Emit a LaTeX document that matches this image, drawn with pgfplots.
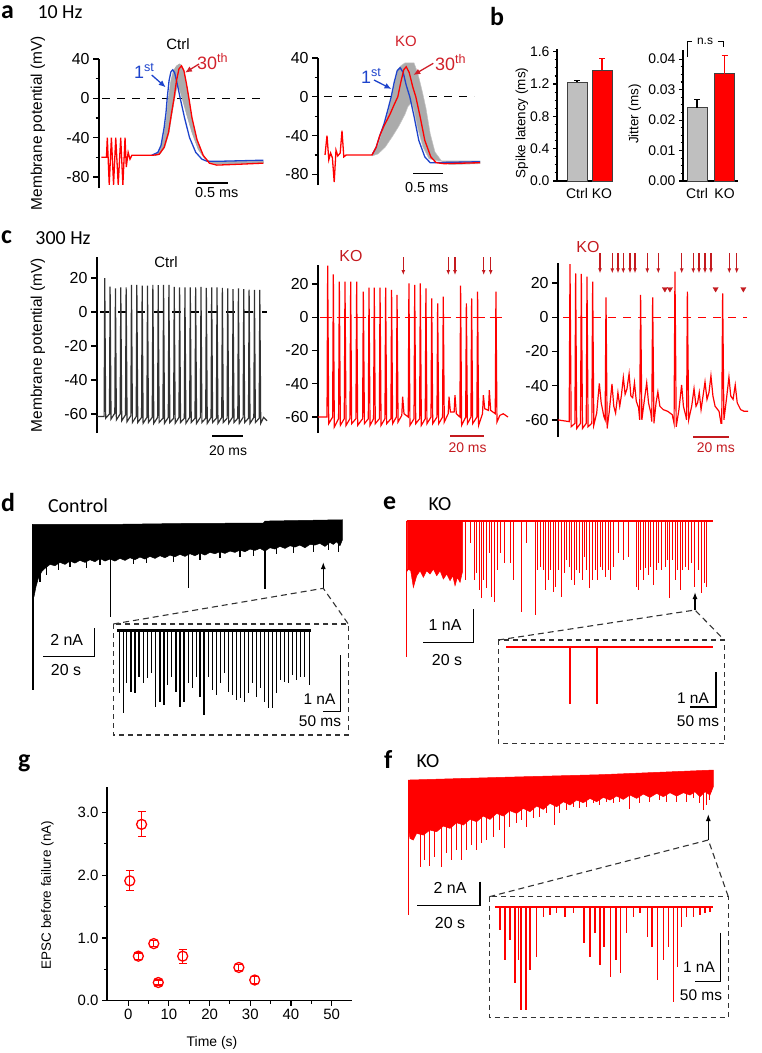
\documentclass[border=0pt]{standalone}
\usepackage{fontspec}
\setmainfont{Liberation Sans}
\newfontfamily\calib{Carlito}
\usepackage{pgfplots}
\pgfplotsset{compat=1.18}
\usetikzlibrary{arrows.meta}
\definecolor{tred}{HTML}{FF0000}
\definecolor{dred}{HTML}{C41A1F}
\definecolor{txred}{HTML}{D1202A}
\definecolor{tblue}{HTML}{1E44CC}
\definecolor{band}{HTML}{ABABAB}
\definecolor{barg}{HTML}{BFBFBF}
\definecolor{ctrlk}{HTML}{333333}
\newcommand{\fs}[1]{\fontsize{#1}{#1}\selectfont}
\pgfplotsset{
  tr/.style={hide axis, scale only axis, clip=false, anchor=south west},
  vm/.style={scale only axis, clip=false, anchor=south west,
    axis x line=none, axis y line=left, axis line style={-, line width=1.3bp},
    tick align=outside, major tick length=6bp, minor tick length=3.5bp,
    tick style={black, line width=1.3bp}, xtick=\empty,
    yticklabel style={font=\fs{16}, /pgf/number format/assume math mode=true}},
  bst/.style={scale only axis, clip=false, anchor=south west,
    axis x line=bottom, axis y line=left, axis line style={-, line width=1.2bp},
    tick align=outside, major tick length=4bp, minor tick length=2.5bp,
    tick style={black, line width=1.1bp}, xtick={1,2}, xticklabels={Ctrl,KO},
    xtick style={draw=none}, tick label style={font=\fs{14}},
    yticklabel style={/pgf/number format/.cd, fixed, fixed zerofill, assume math mode=true},
    scaled y ticks=false, minor y tick num=3},
  bars/.style={ybar, bar width=20bp, bar shift=0bp, draw=black!75, line width=0.8bp,
    error bars/y dir=plus, error bars/y explicit,
    error bars/error bar style={#1, line width=1.1bp},
    error bars/error mark options={rotate=90, #1, mark size=3bp, line width=1.1bp}},
}
\begin{document}
\begin{tikzpicture}[x=1bp,y=1bp]
\useasboundingbox (0,0) rectangle (762,-1053);

% ---------------- a
\begin{axis}[vm, at={(99bp,-188bp)}, width=164bp, height=129bp,
  xmin=0, xmax=2.645, ymin=-91.3, ymax=40, ytick={-80,-40,0,40}, minor ytick={-60,-20,20}]
\addplot[black, dash pattern=on 8bp off 7bp, line width=1.2bp] coordinates {(0.05,0)(2.65,0)};
\addplot[fill=band, draw=band, line width=0.5bp] coordinates {
 (0.9,-58)(0.98,-53)(1.04,-40)(1.09,-20)(1.12,0)(1.16,18)(1.2,28)(1.25,33)(1.3,35)(1.33,33.5)
 (1.37,28)(1.41,15)(1.45,0)(1.5,-20)(1.58,-42)(1.68,-58)(1.78,-65)(1.9,-67)(2.65,-66)
 (2.65,-64)(1.9,-64.5)(1.78,-64)(1.7,-61)(1.6,-52)(1.5,-35)(1.42,-18)(1.35,-2)(1.3,9)
 (1.26,13)(1.22,0)(1.18,-15)(1.13,-35)(1.06,-50)(0.98,-57)(0.9,-58.5)} --cycle;
\addplot[tblue, line width=1.3bp] coordinates {
 (0.85,-58)(0.95,-55)(1.0,-48)(1.05,-30)(1.08,-15)(1.10,0)(1.13,18)(1.16,27)(1.19,29)
 (1.22,26)(1.26,15)(1.31,0)(1.38,-20)(1.46,-40)(1.56,-55)(1.66,-62)(1.74,-64)(2.0,-64)(2.65,-63)};
\addplot[tred, line width=1.3bp] coordinates {
 (0.04,-60)(0.12,-60)(0.134,-40)(0.165,-88)(0.2,-40)(0.235,-88)(0.27,-40)(0.31,-88)(0.35,-40)
 (0.385,-88)(0.42,-40)(0.44,-70)(0.47,-55)(0.5,-62)(0.53,-58)(0.6,-58)(0.87,-58)(0.97,-57)
 (1.05,-50)(1.12,-35)(1.17,-15)(1.21,0)(1.25,18)(1.29,30)(1.33,33)(1.37,28)(1.41,15)(1.45,0)
 (1.5,-20)(1.58,-42)(1.68,-58)(1.78,-66)(1.9,-68)(2.3,-67)(2.65,-66)};
\end{axis}

\begin{axis}[vm, at={(318bp,-185bp)}, width=162bp, height=127bp,
  xmin=0, xmax=2.7, ymin=-91, ymax=40, ytick={-80,-40,0,40}, minor ytick={-60,-20,20}]
\addplot[black, dash pattern=on 8bp off 7bp, line width=1.2bp] coordinates {(0.1,0)(2.6,0)};
\addplot[fill=band, draw=band!70, line width=0.5bp] coordinates {
 (0.9,-60)(1.0,-50)(1.05,-39)(1.15,-20)(1.22,-2)(1.28,15)(1.33,28)(1.38,32)(1.45,35)(1.6,35)
 (1.66,25)(1.74,5)(1.8,-12)(1.87,-38)(1.95,-57)(2.08,-68)(2.2,-70)(2.7,-69)
 (2.7,-66)(2.0,-66)(1.85,-64)(1.75,-52)(1.66,-32)(1.6,-14)(1.56,-6)
 (1.5,-10)(1.45,-18)(1.35,-30)(1.25,-40)(1.12,-52)(1.0,-59)(0.9,-61)} --cycle;
\addplot[tblue, line width=1.3bp] coordinates {
 (0.9,-60)(0.97,-52)(1.03,-40)(1.1,-28)(1.17,-12)(1.22,0)(1.27,15)(1.32,27)(1.37,30)(1.42,25)
 (1.47,12)(1.53,0)(1.6,-20)(1.68,-45)(1.78,-62)(1.87,-68)(2.7,-67)};
\addplot[tred, line width=1.3bp] coordinates {
 (0.117,-60)(0.15,-40)(0.18,-65)(0.21,-58)(0.24,-63)(0.27,-88)(0.30,-55)(0.33,-61)(0.37,-58)
 (0.40,-35)(0.43,-62)(0.47,-60)(0.9,-60)(0.97,-52)(1.03,-40)(1.1,-30)(1.2,-18)(1.27,-8)(1.33,0)
 (1.38,15)(1.43,28)(1.47,31)(1.52,25)(1.58,10)(1.63,0)(1.7,-20)(1.78,-45)(1.88,-62)(1.97,-68)
 (2.1,-69)(2.7,-68)};
\end{axis}

\begin{scope}[y=-1bp]
\node[anchor=west,inner sep=0,font=\calib\bfseries\fs{26}] at (1,12) {a};
\node[font=\calib\fs{20}] at (60,12) {10 Hz};
\node[rotate=90,font=\fs{15.5}] at (38,123) {Membrane potential (mV)};
\node[font=\fs{15}] at (178,44) {Ctrl};
\node[font=\fs{15},text=txred] at (406,41) {KO};
\node[anchor=base west,font=\fs{18},text=tblue,inner sep=0] at (134,78) {1\textsuperscript{st}};
\draw[tblue,line width=1.3bp,-{Latex[length=7bp,width=6bp]}] (151.7,75)--(165.7,87.3);
\node[anchor=base west,font=\fs{18},text=txred,inner sep=0] at (197,69) {30\textsuperscript{th}};
\draw[txred,line width=1.3bp,-{Latex[length=7bp,width=6bp]}] (199,64)--(185,72.7);
\node[anchor=base west,font=\fs{18},text=tblue,inner sep=0] at (361,83) {1\textsuperscript{st}};
\draw[tblue,line width=1.3bp,-{Latex[length=7bp,width=6bp]}] (374,80)--(391.5,89);
\node[anchor=base west,font=\fs{18},text=txred,inner sep=0] at (435,70) {30\textsuperscript{th}};
\draw[txred,line width=1.3bp,-{Latex[length=7bp,width=6bp]}] (433.3,63.3)--(413.3,75);
\draw[line width=1.5bp] (197,183)--(228,183);
\node[font=\fs{14.5}] at (216.7,193) {0.5 ms};
\draw[line width=1.5bp] (413.3,173.3)--(443.3,173.3);
\node[font=\fs{14.5}] at (426.7,187.5) {0.5 ms};
\end{scope}

% ---------------- b
\begin{axis}[bst, at={(557bp,-181bp)}, width=56bp, height=131.7bp,
  xmin=0.2, xmax=2.44, ymin=0, ymax=1.63, ytick={0,0.4,0.8,1.2,1.6},
  yticklabel style={/pgf/number format/precision=1}]
\addplot[fill=barg, bars=black] coordinates {(1,1.22) +- (0,0.025)};
\addplot[fill=tred, bars=tred] coordinates {(2,1.37) +- (0,0.145)};
\end{axis}
\begin{axis}[bst, at={(683bp,-181bp)}, width=55bp, height=131bp,
  xmin=0.49, xmax=2.49, ymin=0, ymax=0.043, ytick={0,0.01,0.02,0.03,0.04},
  yticklabel style={/pgf/number format/precision=2}]
\addplot[fill=barg, bars=black] coordinates {(1,0.0241) +- (0,0.0027)};
\addplot[fill=tred, bars=tred] coordinates {(2,0.0352) +- (0,0.0059)};
\end{axis}
\begin{scope}[y=-1bp]
\node[anchor=west,inner sep=0,font=\calib\bfseries\fs{26}] at (490,17) {b};
\node[rotate=90,font=\fs{13.5}] at (522,123) {Spike latency (ms)};
\node[rotate=90,font=\fs{13.5}] at (635,114) {Jitter (ms)};
\draw[line width=1bp] (687.3,56.7)--(687.3,41.7)--(692,41.7);
\draw[line width=1bp] (717.7,41.7)--(723.3,41.7)--(723.3,47);
\node[font=\fs{12}] at (705,41) {n.s};
\end{scope}

% ---------------- c
\begin{axis}[vm, at={(97bp,-433bp)}, width=170bp, height=176bp,
  xmin=0, xmax=109.7, ymin=-71.2, ymax=32.4, ytick={-60,-40,-20,0,20}]
\addplot[black, dash pattern=on 9bp off 9bp, line width=1.3bp] coordinates {(2,0)(110,0)};
\addplot[ctrlk, line width=1.2bp] coordinates {
 (0,-61.5)(4.6,-61.5)(5.0,20)(5.6,-62.5)(8.05,-60)(8.45,15)(9.05,-63)(11.5,-59.5)(11.9,14)(12.5,-63.5)
 (14.95,-60)(15.35,14.5)(15.95,-64)(18.4,-60.5)(18.8,14.5)(19.4,-64.5)(21.85,-61)(22.25,16)(22.85,-65)
 (25.3,-61.5)(25.7,16)(26.3,-65)(28.75,-62)(29.15,15.5)(29.75,-65.5)(32.2,-62)(32.6,15.5)(33.2,-65)
 (35.65,-62)(36.05,16)(36.65,-65.5)(39.1,-62)(39.5,15.8)(40.1,-65)(42.55,-62.5)(42.95,16)(43.55,-65.5)
 (46.0,-62)(46.4,16)(47.0,-65)(49.45,-62.5)(49.85,14.8)(50.45,-65.5)(52.9,-62)(53.3,14.5)(53.9,-65)
 (56.35,-62.5)(56.75,14.5)(57.35,-65.5)(59.8,-62)(60.2,14.5)(60.8,-65)(63.25,-62.5)(63.65,14.5)(64.25,-65.5)
 (66.7,-62)(67.1,14.8)(67.7,-65)(70.15,-62.5)(70.55,14.3)(71.15,-65.5)(73.6,-62)(74.0,14.5)(74.6,-65)
 (77.05,-62.5)(77.45,14.5)(78.05,-65.5)(80.5,-62)(80.9,14.3)(81.5,-65)(83.95,-62.5)(84.35,14)(84.95,-65.5)
 (87.4,-62)(87.8,13.5)(88.4,-65)(90.85,-62.5)(91.25,14)(91.85,-65.5)(94.3,-62)(94.7,13.5)(95.3,-65)
 (97.75,-62.5)(98.15,13.2)(98.75,-65.5)(101.2,-62)(101.6,13)(102.2,-65)(104.65,-62.5)(105.05,13)(105.65,-65.5)
 (107.5,-62)(109.7,-64)};
\end{axis}

\begin{axis}[vm, at={(318bp,-433bp)}, width=190bp, height=168bp,
  xmin=0, xmax=111.8, ymin=-69.6, ymax=31.4, ytick={-60,-40,-20,0,20}]
\addplot[tred, dash pattern=on 12bp off 5bp, line width=1.3bp] coordinates {(1,0)(109,0)};
\addplot[tred, line width=1.2bp] coordinates {
 (0,-60)(5.3,-60)(5.69,31)(6.3,-64)(8.6,-60)(9.02,25.8)(9.6,-66)(12.1,-61)(12.55,21.4)(13.15,-65)
 (15.45,-61)(15.88,21.4)(16.5,-65)(18.8,-61)(19.22,21.4)(19.8,-64)(22.3,-61)(22.75,21.4)(23.35,-65)
 (26.25,-61)(26.67,15.4)(27.3,-64)(29.6,-61)(30.0,17.8)(30.6,-65)(32.7,-61)(33.1,17.8)(33.7,-64)
 (36.1,-61)(36.5,17.8)(37.1,-65)(39.4,-61)(39.8,17.8)(40.4,-64)(42.9,-61)(43.3,16.4)(43.9,-64)
 (46.1,-60)(46.5,13.4)(47.1,-63)(49.3,-59)(49.8,-47.8)(50.6,-58)(53.1,-60)(53.5,20.4)(54.1,-65)
 (56.5,-61)(56.9,19.4)(57.5,-64)(59.8,-61)(60.2,20.4)(60.8,-65)(63.1,-61)(63.5,17.4)(64.1,-64)
 (66.5,-60)(66.9,11.4)(67.5,-64)(70.0,-60)(70.4,8.4)(71.0,-64)(73.3,-60)(73.7,12.4)(74.3,-63)
 (76.6,-58)(77.1,-47.8)(77.9,-57)(80.1,-57)(80.6,-46.8)(81.4,-58)(83.5,-60)(83.9,19)(84.5,-65)
 (86.9,-60)(87.3,8.4)(87.9,-64)(90.0,-60)(90.4,11.4)(91.0,-64)(93.5,-60)(93.9,15.4)(94.5,-65)
 (96.8,-58)(97.3,-46.8)(98.1,-55)(100.3,-56)(100.8,-43.8)(101.6,-56)(104.3,-58)(104.7,15.4)(105.3,-63)
 (107,-59)(109,-58)(111.8,-60)};
\end{axis}

\begin{axis}[vm, at={(558bp,-437bp)}, width=190bp, height=174bp,
  xmin=0, xmax=105.6, ymin=-70, ymax=31.7, ytick={-60,-40,-20,0,20}]
\addplot[tred, dash pattern=on 8bp off 7bp, line width=1.3bp] coordinates {(3,0)(105,0)};
\addplot[tred, line width=1.2bp] coordinates {
 (0,-60)(6.2,-61)(6.67,31.1)(7.3,-64)(9.4,-62)(9.8,25.7)(10.4,-65)(12.5,-62)(12.96,25.3)(13.6,-65)
 (15.7,-62)(16.1,23.7)(16.7,-64)(18.8,-62)(19.26,20.8)(19.9,-63)(21.5,-56)(22.96,-38.7)(24.0,-50)(25.5,-58)
 (26.2,-60)(26.67,11.6)(27.3,-65)(28.5,-55)(30.0,-39)(31.0,-52)(32.0,-56)(33.3,-44)(34.3,-52)(35.2,-46)
 (36.3,-35.2)(37.3,-45)(38.3,-42)(39.5,-33)(40.5,-46)(41.5,-47)(42.5,-38.3)(43.5,-49)(44.8,-53)
 (45.4,-60)(45.9,13)(46.6,-60)(47.8,-50)(49.3,-38.3)(50.3,-50)(51.6,-56)(52.1,-61)(52.6,11.6)(53.3,-62)
 (54.5,-50)(55.5,-43.6)(56.6,-52)(58.5,-54)(61,-55)(63.5,-57)(64.5,-62)(65.0,26.6)(65.7,-64)
 (67.2,-54)(68.7,-39.6)(69.7,-52)(71.1,-58)(71.45,-60)(71.9,15)(72.6,-60)(74.3,-52)(75.6,-41.7)(76.7,-52)
 (77.6,-50)(78.5,-44)(79.5,-54)(80.6,-46)(81.7,-37.8)(82.8,-48)(83.9,-44)(85.0,-34.2)(86.1,-46)(87.3,-52)
 (89.5,-55)(90.6,-62)(91.0,-62)(91.5,14)(92.2,-60)(93.6,-48)(95.0,-35)(96.0,-46)(97.3,-48)(98.5,-39.6)
 (99.6,-50)(101.5,-54)(103.5,-55)(105.6,-55)};
\addplot[only marks, mark=triangle*, mark size=3bp, dred, mark options={rotate=180}] coordinates {
 (59.4,16.5)(62.2,16.5)(87.6,16.5)(103,16.5)};
\end{axis}

\begin{scope}[y=-1bp]
\node[anchor=west,inner sep=0,font=\calib\bfseries\fs{26}] at (1,237) {c};
\node[font=\calib\fs{20}] at (63,238) {300 Hz};
\node[rotate=90,font=\fs{15.5}] at (38,345) {Membrane potential (mV)};
\node[font=\fs{15}] at (166,262) {Ctrl};
\node[font=\fs{16},text=dred] at (351,256) {KO};
\node[font=\fs{16},text=dred] at (588,247) {KO};
\foreach \xx in {403.3,448.3,455,483.7,490.7}
  \draw[dred,line width=1.2bp,-{Latex[length=5bp,width=4bp]}] (\xx,257)--(\xx,275);
\foreach \xx in {600,612.3,618,623.3,630,635,647.3,658.3,681.7,693.3,699,705,711,729.3,736.7}
  \draw[dred,line width=1.2bp,-{Latex[length=5bp,width=4bp]}] (\xx,253.3)--(\xx,273.3);
\draw[line width=1.6bp] (212.3,436)--(243.3,436);
\node[font=\fs{14}] at (228,451) {20 ms};
\draw[dred,line width=1.6bp] (450,436)--(484,436);
\node[font=\fs{14},text=dred] at (467.5,448) {20 ms};
\draw[dred,line width=1.6bp] (693,437)--(729,437);
\node[font=\fs{14},text=dred] at (715.8,448) {20 ms};
\end{scope}

% ---------------- d
\begin{axis}[tr, at={(32.3bp,-701.7bp)}, width=310bp, height=183.3bp, xmin=97, xmax=1027, ymin=-530, ymax=20]
\addplot[fill=black, draw=black, line width=0.5bp] coordinates {
 (97,2)(330,2)(565,5)(790,6)(795,12)(1027,16)
 (1027,-45)(1020,-62)(1010,-50)(1000,-58)(990,-52)(975,-64)(960,-55)(945,-60)(930,-58)(915,-68)
 (900,-60)(885,-66)(870,-62)(855,-70)(840,-64)(825,-72)(810,-68)(795,-78)(780,-70)(765,-76)
 (750,-72)(735,-80)(720,-75)(705,-82)(690,-78)(675,-85)(660,-80)(645,-86)(630,-82)(615,-90)
 (600,-84)(585,-92)(570,-86)(555,-94)(540,-88)(525,-95)(510,-90)(495,-98)(480,-92)(465,-100)
 (450,-94)(435,-102)(420,-96)(405,-104)(390,-98)(375,-106)(360,-100)(345,-108)(330,-102)(315,-108)
 (300,-100)(285,-110)(270,-104)(255,-112)(240,-106)(225,-114)(210,-108)(195,-118)(180,-112)(165,-122)
 (150,-118)(135,-130)(125,-140)(115,-160)(108,-185)(102,-215)(97,-220)} --cycle;
\addplot[ycomb, black, line width=1.1bp] coordinates {
 (99,-495)(332,-275)(565,-190)(795,-192)
 (120,-170)(140,-150)(175,-135)(210,-125)(260,-128)(300,-120)(400,-118)(440,-115)(520,-110)
 (600,-105)(660,-100)(720,-95)(760,-92)(830,-88)(880,-85)(940,-80)(985,-75)(1015,-80)};
\end{axis}
\begin{axis}[tr, at={(116.7bp,-717.3bp)}, width=196.7bp, height=90bp, xmin=50, xmax=640, ymin=-260, ymax=10]
\addplot[black, line width=2.5bp] coordinates {(52,0)(632,0)};
\addplot[ycomb, black, line width=1.1bp] coordinates {
 (58,-188)(70,-248)(80,-158)(93,-183)(105,-188)(117,-138)(130,-158)(142,-143)(155,-128)(167,-228)
 (180,-213)(192,-223)(203,-163)(215,-138)(228,-183)(240,-228)(252,-213)(265,-158)(277,-173)(290,-138)
 (300,-198)(312,-253)(325,-138)(337,-178)(350,-193)(362,-158)(373,-128)(385,-183)(397,-193)(408,-208)
 (420,-203)(432,-213)(444,-188)(456,-158)(468,-198)(480,-173)(492,-213)(505,-233)(517,-233)(528,-188)
 (540,-148)(552,-153)(564,-158)(576,-133)(590,-148)(602,-138)(614,-138)(628,-163)};
\end{axis}
\begin{scope}[y=-1bp]
\node[anchor=west,inner sep=0,font=\calib\bfseries\fs{26}] at (1,503) {d};
\node[font=\calib\fs{20}] at (78,506) {Control};
\draw[line width=1.3bp,-{Latex[length=7bp,width=5bp]}] (323.3,588.3)--(323.3,562);
\draw[black!80,line width=1.1bp,dash pattern=on 6bp off 4bp] (113.3,624)--(323.3,588.3)--(348.3,624);
\draw[black!80,line width=1.1bp,dash pattern=on 5bp off 4bp] (113.3,624) rectangle (348.3,735);
\draw[line width=1.5bp] (94.3,628)--(94.3,656.7)--(42.7,656.7);
\node[font=\fs{16}] at (66.7,640) {2 nA};
\node[font=\fs{16}] at (66,670) {20 s};
\draw[line width=1.5bp] (340.7,655)--(340.7,711.7)--(322.7,711.7);
\node[font=\fs{15.5}] at (319.5,699) {1 nA};
\node[font=\fs{15.5}] at (320,721) {50 ms};
\end{scope}

% ---------------- e
\begin{axis}[tr, at={(406.7bp,-660.7bp)}, width=306.7bp, height=143.3bp, xmin=80, xmax=1000, ymin=-420, ymax=10]
\addplot[tred, line width=1.6bp] coordinates {(80,0)(1000,0)};
\addplot[fill=tred, draw=tred, line width=0.5bp] coordinates {
 (82,0)(248,0)(248,-150)(240,-185)(232,-170)(225,-195)(218,-165)(210,-180)(200,-160)(190,-175)
 (180,-150)(170,-165)(160,-145)(150,-160)(140,-150)(130,-170)(120,-150)(110,-165)(100,-200)(92,-150)
 (85,-145)(82,-150)} --cycle;
\addplot[ycomb, tred, line width=1bp] coordinates {
 (80,-408)(255,-178)(270,-68)(282,-178)(290,-158)(297,-208)(303,-233)(310,-178)(318,-203)(327,-98)
 (335,-228)(343,-243)(352,-148)(362,-98)(372,-128)(390,-128)(400,-178)(425,-273)(440,-68)(465,-283)
 (472,-148)(480,-138)(490,-148)(497,-208)(505,-178)(512,-148)(520,-213)(527,-198)(535,-148)(545,-228)
 (552,-158)(560,-118)(567,-138)(575,-178)(582,-193)(590,-148)(598,-158)(606,-178)(613,-108)(620,-148)
 (628,-203)(636,-178)(645,-148)(652,-178)(660,-138)(668,-148)(676,-168)(684,-148)(692,-178)(700,-138)
 (715,-98)(730,-118)(745,-108)(770,-198)(776,-208)(782,-148)(790,-178)(797,-143)(804,-163)(812,-138)
 (820,-193)(828,-148)(836,-128)(845,-148)(855,-138)(862,-118)(868,-233)(876,-118)(885,-178)(892,-148)
 (900,-208)(908,-148)(917,-138)(925,-148)(935,-128)(942,-198)(955,-148)(965,-218)(972,-188)(980,-198)};
\end{axis}
\begin{axis}[tr, at={(500bp,-707bp)}, width=216bp, height=65bp, xmin=500, xmax=716, ymin=-60, ymax=5]
\addplot[tred, line width=1.3bp] coordinates {(506,0)(713,0)};
\addplot[ycomb, tred, line width=1.1bp] coordinates {(570,-57)(597,-57)};
\end{axis}
\begin{scope}[y=-1bp]
\node[anchor=west,inner sep=0,font=\calib\bfseries\fs{26}] at (383,503) {e};
\node[font=\calib\fs{20}] at (440,504) {KO};
\draw[line width=1.3bp,-{Latex[length=7bp,width=5bp]}] (695,610)--(695,592);
\draw[black!80,line width=1.1bp,dash pattern=on 6bp off 4bp] (498.3,640)--(695,610)--(724.3,640);
\draw[black!80,line width=1.1bp,dash pattern=on 5bp off 4bp] (498.3,640) rectangle (724.3,743.3);
\draw[line width=1.5bp] (473.3,609)--(473.3,642.7)--(422.7,642.7);
\node[font=\fs{16}] at (445,625) {1 nA};
\node[font=\fs{16}] at (447,660) {20 s};
\draw[line width=1.5bp] (716,672)--(716,707)--(690,707);
\node[font=\fs{15.5}] at (693,698) {1 nA};
\node[font=\fs{15.5}] at (698,721) {50 ms};
\end{scope}

% ---------------- f
\begin{axis}[tr, at={(408.3bp,-916.7bp)}, width=305bp, height=150bp, xmin=25, xmax=940, ymin=-410, ymax=40]
\addplot[fill=tred, draw=tred, line width=0.5bp] coordinates {
 (25,0)(300,8)(600,16)(940,30)
 (940,-20)(930,-45)(915,-35)(900,-50)(885,-35)(870,-45)(850,-38)(830,-48)(810,-38)(790,-50)
 (770,-40)(750,-52)(730,-42)(710,-55)(690,-45)(670,-58)(650,-48)(630,-60)(610,-52)(590,-65)
 (570,-55)(550,-68)(530,-60)(510,-75)(490,-65)(470,-80)(450,-70)(430,-88)(410,-78)(390,-95)
 (370,-85)(350,-100)(330,-92)(310,-108)(290,-100)(270,-118)(250,-108)(230,-125)(210,-118)(190,-135)
 (170,-128)(150,-145)(130,-138)(110,-155)(90,-150)(70,-165)(50,-160)(40,-180)(30,-175)(25,-140)} --cycle;
\addplot[ycomb, tred, line width=1bp] coordinates {
 (27,-405)(62,-260)(75,-240)(90,-258)(105,-230)(125,-260)(140,-220)(155,-240)(170,-210)(185,-240)
 (200,-210)(215,-195)(230,-210)(245,-190)(260,-180)(280,-170)(300,-150)(313,-205)(330,-140)(350,-130)
 (365,-120)(380,-140)(400,-115)(420,-110)(440,-100)(465,-135)(480,-100)(500,-90)(520,-80)(540,-85)
 (560,-80)(580,-70)(600,-75)(620,-65)(640,-70)(660,-65)(690,-88)(720,-70)(750,-65)(780,-60)
 (800,-65)(830,-65)(860,-65)(880,-55)(900,-70)(910,-90)(920,-75)(930,-60)};
\end{axis}
\begin{axis}[tr, at={(493.3bp,-1013.3bp)}, width=221.7bp, height=113.3bp, xmin=280, xmax=945, ymin=-320, ymax=20]
\addplot[tred, line width=1.8bp] coordinates {(285,0)(940,0)};
\addplot[ycomb, tred, line width=1.1bp] coordinates {
 (300,-70)(315,-160)(330,-100)(345,-230)(355,-160)(363,-310)(378,-310)(390,-190)(410,-150)(430,-30)
 (450,-25)(470,-20)(495,-30)(520,-20)(552,-110)(570,-150)(585,-80)(600,-175)(612,-120)(632,-210)
 (648,-160)(662,-200)(680,-80)(700,-30)(720,-20)(742,-90)(756,-120)(773,-220)(790,-160)(805,-120)
 (820,-285)(832,-180)(845,-60)(860,-30)(880,-30)(900,-25)(915,-20)(930,-15)};
\end{axis}
\begin{scope}[y=-1bp]
\node[anchor=west,inner sep=0,font=\calib\bfseries\fs{26}] at (384,759) {f};
\node[font=\calib\fs{20}] at (428,761) {KO};
\draw[line width=1.3bp,-{Latex[length=7bp,width=5bp]}] (708.3,840)--(708.3,814);
\draw[black!80,line width=1.1bp,dash pattern=on 6bp off 4bp] (489.3,896.7)--(708.3,840)--(728.3,896.7);
\draw[black!80,line width=1.1bp,dash pattern=on 5bp off 4bp] (489.3,896.7) rectangle (728.3,1017.3);
\draw[line width=1.5bp] (480,881.7)--(480,905.7)--(417,905.7);
\node[font=\fs{16}] at (450,888) {2 nA};
\node[font=\fs{16}] at (450,923) {20 s};
\draw[line width=1.5bp] (720.7,932.7)--(720.7,981.7)--(695,981.7);
\node[font=\fs{15.5}] at (699,967) {1 nA};
\node[font=\fs{15.5}] at (701,995) {50 ms};
\end{scope}

% ---------------- g
\begin{axis}[scale only axis, clip=false, anchor=south west, at={(107bp,-1000.7bp)},
  width=245bp, height=213.4bp, xmin=-5.2, xmax=55, ymin=0, ymax=3.4,
  axis lines=left, axis line style={-, line width=1.2bp},
  tick align=outside, major tick length=5bp, minor tick length=3bp,
  tick style={black, line width=1.1bp},
  xtick={0,10,20,30,40,50}, ytick={0,1,2,3}, minor x tick num=1, minor y tick num=1,
  tick label style={font=\fs{15}},
  yticklabel style={/pgf/number format/.cd, fixed, fixed zerofill, precision=1, assume math mode=true},
  xticklabel style={/pgf/number format/assume math mode=true}]
\addplot[only marks, mark=o, mark size=5bp, tred, mark options={line width=1.3bp},
  error bars/.cd, y dir=both, y explicit,
  error bar style={tred, line width=1.1bp},
  error mark options={rotate=90, tred, mark size=4bp, line width=1.1bp}] coordinates {
 (0.4,1.91) +- (0,0.16)
 (3.3,2.81) +- (0,0.2)
 (2.5,0.71) +- (0,0.05)
 (6.3,0.91) +- (0,0.05)
 (7.4,0.29) +- (0,0.04)
 (13.4,0.71) +- (0,0.11)
 (27.2,0.53) +- (0,0.05)
 (31.1,0.33) +- (0,0.05)};
\end{axis}
\begin{scope}[y=-1bp]
\node[anchor=west,inner sep=0,font=\calib\bfseries\fs{26}] at (18,763) {g};
\node[rotate=90,font=\fs{13.5}] at (47.5,895) {EPSC before failure (nA)};
\node[font=\fs{14}] at (212,1043) {Time (s)};
\end{scope}
\end{tikzpicture}
\end{document}
